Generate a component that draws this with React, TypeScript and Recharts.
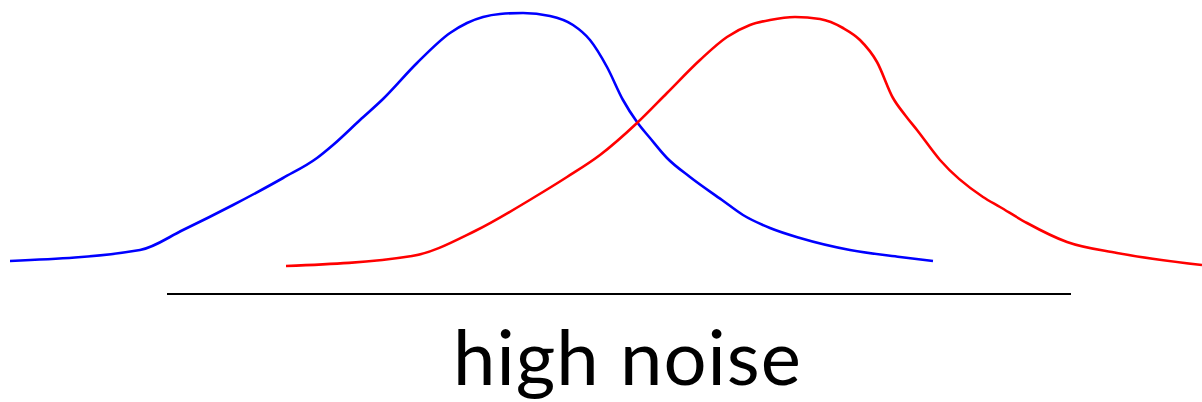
import { LineChart, Line, XAxis, YAxis, ReferenceLine } from "recharts";

const lowX = [10, 140, 183, 233, 283, 317, 333, 360, 383, 417, 450, 467, 500, 523, 550, 573, 590, 607, 623, 637, 650, 667, 690, 722, 743, 770, 800, 850, 900, 933];
const lowY = [261, 250, 230, 205, 178, 158, 145, 120, 99, 63, 33, 23, 14, 13, 16, 25, 40, 67, 100, 122, 138, 158, 177, 200, 215, 228, 238, 250, 257, 261];

const highX = [286, 412, 475, 533, 567, 600, 637, 667, 700, 727, 750, 770, 795, 820, 843, 860, 877, 893, 905, 917, 940, 983, 1000, 1027, 1067, 1117, 1202];
const highY = [266, 256, 231, 198, 177, 155, 123, 93, 60, 37, 25, 20, 17, 19, 28, 40, 62, 98, 115, 130, 160, 197, 207, 223, 242, 253, 265];

const axisStart = 167;
const axisEnd = 1071;
const axisLevel = 294;
const caption = "high noise";

const lowData = lowX.map((x, i) => ({ x, y: lowY[i] }));
const highData = highX.map((x, i) => ({ x, y: highY[i] }));

const App = () => {
  return (
    <div style={{ position: "relative", width: 1202, height: 402, overflow: "hidden" }}>
      <style>{"body{margin:0}"}</style>
      <LineChart width={1202} height={402} margin={{ top: 0, right: 0, bottom: 0, left: 0 }}>
        <XAxis type="number" dataKey="x" domain={[0, 1202]} hide />
        <YAxis type="number" dataKey="y" domain={[0, 402]} reversed hide />
        <ReferenceLine
          segment={[
            { x: axisStart, y: axisLevel },
            { x: axisEnd, y: axisLevel },
          ]}
          stroke="#000"
          strokeWidth={2}
        />
        <Line
          data={lowData}
          dataKey="y"
          type="monotone"
          stroke="#0000ff"
          strokeWidth={2.6}
          dot={false}
          activeDot={false}
          isAnimationActive={false}
        />
        <Line
          data={highData}
          dataKey="y"
          type="monotone"
          stroke="#ff0000"
          strokeWidth={2.6}
          dot={false}
          activeDot={false}
          isAnimationActive={false}
        />
      </LineChart>
      <div
        style={{
          position: "absolute",
          left: 453,
          top: 318,
          fontFamily: "Lato, sans-serif",
          fontSize: 76,
          lineHeight: "76px",
          letterSpacing: 1,
          color: "#000",
          whiteSpace: "nowrap",
        }}
      >
        {caption}
      </div>
    </div>
  );
};

export default App;
